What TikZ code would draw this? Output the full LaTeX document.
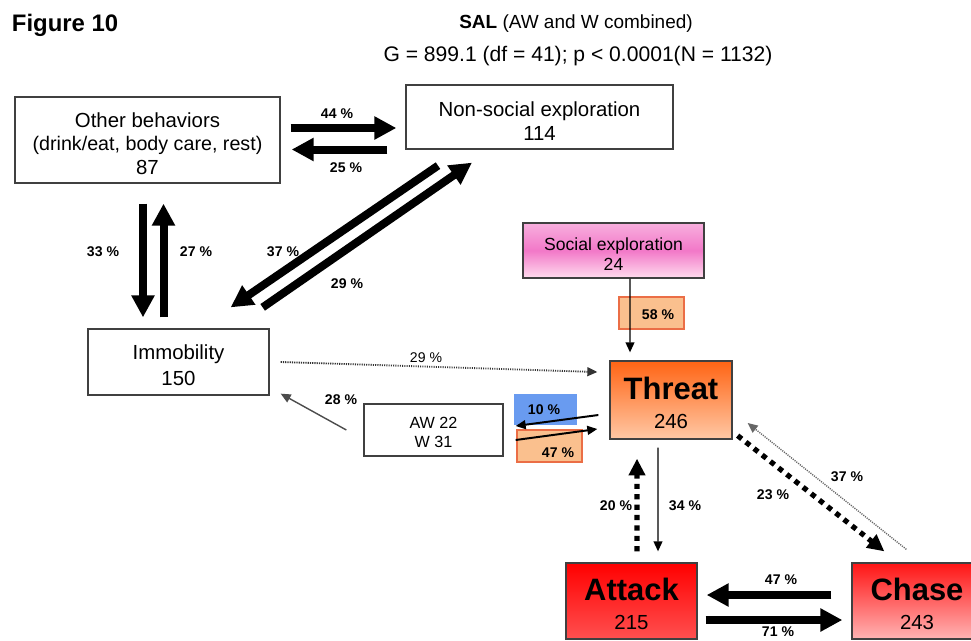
\documentclass[tikz,border=0pt]{standalone}
\usepackage{fontspec}
\setmainfont{Liberation Sans}
\usetikzlibrary{arrows.meta,calc}

\newcommand{\padtop}[1]{\rule{0pt}{#1}}

\begin{document}
\begin{tikzpicture}[x=0.025cm, y=-0.025cm,
    every node/.style={font=\fontsize{14.5}{18.5}\selectfont},
    box/.style={draw=black!75, line width=0.9pt, inner sep=0pt, align=center},
    pct/.style={font=\fontsize{10}{12}\selectfont\bfseries},
    pctbox/.style={draw=pctred, fill=pctorange, line width=0.9pt, minimum width=1.625cm, minimum height=0.8cm, inner sep=0pt},
    bigarrow/.style={line width=0.2cm, -{Triangle[length=0.55cm,width=0.55cm]}},
    thinarrow/.style={line width=1pt, -{Triangle[length=0.25cm,width=0.22cm]}},
    bigdots/.style={line width=0.13cm, dash pattern=on 0.13cm off 0.13cm, -{Triangle[length=0.42cm,width=0.4cm]}},
    finedots/.style={line width=1.3pt, dash pattern=on 0.8pt off 0.8pt, -{Triangle[length=0.25cm,width=0.22cm]}}]
        \definecolor{threattop}{RGB}{255,100,20}
        \definecolor{threatbot}{RGB}{255,200,165}
        \definecolor{attacktop}{RGB}{255,0,0}
        \definecolor{attackbot}{RGB}{255,80,80}
        \definecolor{chasetop}{RGB}{255,20,20}
        \definecolor{chasebot}{RGB}{255,180,180}
        \definecolor{socialtop}{RGB}{248,175,222}
        \definecolor{socialmid}{RGB}{242,120,200}
        \definecolor{socialbot}{RGB}{255,220,238}
        \definecolor{pctorange}{RGB}{250,192,142}
        \definecolor{pctred}{RGB}{235,110,70}
        \definecolor{pctblue}{RGB}{105,155,240}

        \useasboundingbox (0,0) rectangle (971,640);
        \clip (0,0) rectangle (971,640);

        % Heading
        \node[anchor=west, font=\fontsize{17}{20}\selectfont\bfseries] (fig) at (7,25) {Figure 10};
        \node[font=\fontsize{13.5}{16}\selectfont] (title) at (576,24) {\textbf{SAL} (AW and W combined)};
        \node[font=\fontsize{15}{18}\selectfont] (stats) at (578,56) {G = 899.1 (df = 41); p < 0.0001(N = 1132)};

        % Non-aggressive states
        \node[box, font=\fontsize{14.5}{16.7}\selectfont, minimum width=6.625cm, minimum height=2.15cm] (other) at (147.5,140)
            {\padtop{15.6pt}Other behaviors\\{\fontsize{14}{16.7}\selectfont (drink/eat, body care, rest)}\\87};
        \node[box, font=\fontsize{14.5}{17}\selectfont, minimum width=6.675cm, minimum height=1.6cm] (nonsocial) at (539.5,117)
            {\padtop{16.2pt}Non-social exploration\\114};
        \node[box, minimum width=4.525cm, minimum height=1.65cm] (immob) at (178.5,362)
            {\padtop{14.9pt}Immobility\\150};
        \node[box, minimum width=4.525cm, minimum height=1.375cm, top color=socialtop, bottom color=socialbot, middle color=socialmid,
            font=\fontsize{12.5}{14.2}\selectfont] (social) at (613.5,250.5) {\padtop{14.8pt}Social exploration\\24};
        \node[box, minimum width=3.475cm, minimum height=1.3cm, font=\fontsize{11.5}{13.5}\selectfont] (aw) at (433.5,430)
            {\padtop{11.8pt}AW 22\\W 31};

        % Aggressive states
        \node[box, font=\fontsize{14.5}{20}\selectfont, minimum width=3.05cm, minimum height=1.95cm, top color=threattop, bottom color=threatbot] (threat) at (671,400)
            {\padtop{20pt}{\fontsize{22}{20}\selectfont\bfseries Threat}\\246};
        \node[box, font=\fontsize{14.5}{20}\selectfont, minimum width=3.275cm, minimum height=1.9cm, top color=attacktop, bottom color=attackbot] (attack) at (631.5,601)
            {\padtop{20pt}{\fontsize{22}{20}\selectfont\bfseries Attack}\\215};
        \node[box, font=\fontsize{14.5}{20}\selectfont, minimum width=3.25cm, minimum height=1.9cm, top color=chasetop, bottom color=chasebot] (chase) at (917,601)
            {\padtop{20pt}{\fontsize{22}{20}\selectfont\bfseries Chase}\\243};

        % Small percentage boxes
        \node[pctbox] (b58) at (651.5,313) {};
        \node[pctbox, fill=pctblue, draw=none, minimum width=1.575cm, minimum height=0.775cm] (b10) at (545.5,409.5) {};
        \node[pctbox] (b47) at (549.5,446) {};

        % Thick transitions
        \draw[bigarrow] ($(other.east)+(10,-12)$) -- ($(nonsocial.west)+(-9,11)$);
        \draw[bigarrow] ($(nonsocial.west)+(-18,32.5)$) -- ($(other.east)+(11,9.5)$);
        \draw[bigarrow] ($(other.south)+(-4.5,20)$) -- ($(immob.north)+(-35.5,-11)$);
        \draw[bigarrow] ($(immob.north)+(-15,-11)$) -- ($(other.south)+(16,20)$);
        \draw[bigarrow] ($(nonsocial.south)+(-101.5,16)$) -- ($(immob.north east)+(-39,-21)$);
        \draw[bigarrow] ($(immob.north east)+(-7,-21)$) -- ($(nonsocial.south)+(-67.5,13)$);
        \draw[bigarrow] ($(chase.west)+(-20,-6)$) -- ($(attack.east)+(9,-6)$);
        \draw[bigarrow] ($(attack.east)+(8,19)$) -- ($(chase.west)+(-9,19)$);

        % Thin transitions
        \draw[thinarrow] ($(social.south)+(16.5,0)$) -- ($(threat.north)+(-41,-8)$);
        \draw[thinarrow, black!70] ($(aw.west)+(-17,0)$) -- ($(immob.south east)+(11,-2)$);
        \draw[thinarrow, line width=1.4pt] ($(threat.west)+(-11,15)$) -- ($(aw.east)+(12,-4)$);
        \draw[thinarrow, line width=1.4pt] ($(aw.east)+(12,10)$) -- ($(threat.west)+(-12,29)$);
        \draw[thinarrow] ($(threat.south)+(-13,8)$) -- ($(attack.north)+(26.5,-11)$);

        % Dotted transitions
        \draw[finedots, black!80] ($(immob.east)+(11,0)$) -- ($(threat.west)+(-12,-28)$);
        \draw[finedots, black!60, line width=1pt] ($(chase.north west)+(55,-13)$) -- ($(threat.east)+(15,23)$);
        \draw[bigdots] ($(attack.north)+(5.5,-11)$) -- ($(threat.south)+(-34,19)$);
        \draw[bigdots] ($(threat.south east)+(5,-4)$) -- ($(chase.north west)+(33,-11)$);

        % Percentages
        \node[pct] (l44) at (337,114) {44 \%};
        \node[pct] (l25) at (346,168) {25 \%};
        \node[pct] (l33) at (103,252) {33 \%};
        \node[pct] (l27) at (196,252) {27 \%};
        \node[pct] (l37a) at (283,252) {37 \%};
        \node[pct] (l29a) at (347,284) {29 \%};
        \node[pct, font=\fontsize{10}{12}\selectfont] (l29b) at (426,358) {29 \%};
        \node[pct] (l28) at (341,400) {28 \%};
        \node[pct] (l58) at (658,315) {58 \%};
        \node[pct] (l10) at (544,410) {10 \%};
        \node[pct] (l47a) at (558,453) {47 \%};
        \node[pct] (l20) at (616,506) {20 \%};
        \node[pct] (l34) at (685,506) {34 \%};
        \node[pct] (l23) at (773,495) {23 \%};
        \node[pct] (l37b) at (847,477) {37 \%};
        \node[pct] (l47b) at (781,580) {47 \%};
        \node[pct] (l71) at (778,632) {71 \%};
\end{tikzpicture}
\end{document}
